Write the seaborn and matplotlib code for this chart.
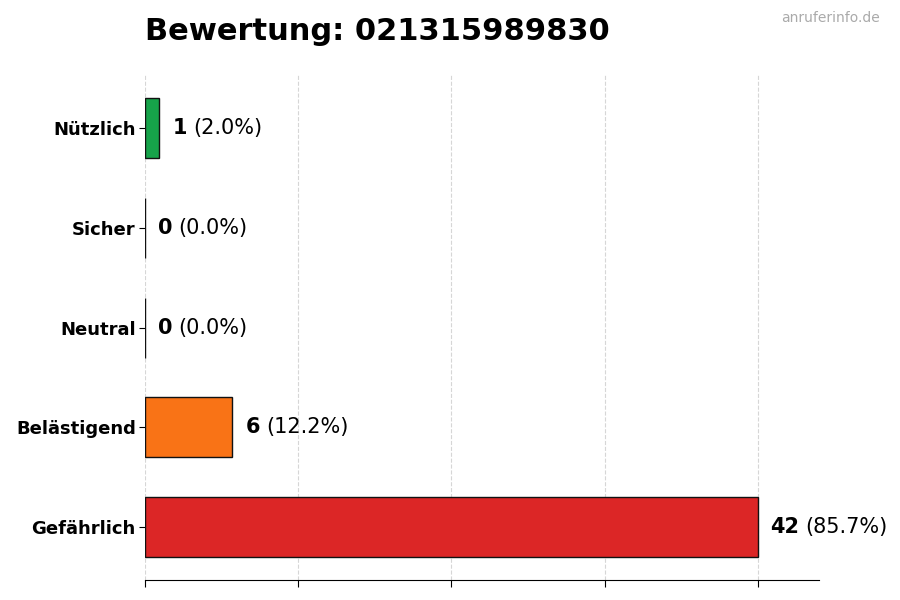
import matplotlib
matplotlib.use("Agg")
import matplotlib.pyplot as plt
import numpy as np
import pandas as pd
import seaborn as sns

# Chart data
categories = ["Nützlich", "Sicher", "Neutral", "Belästigend", "Gefährlich"]
counts = [1, 0, 0, 6, 42]
colors = ["#16a34a", "#2563eb", "#9ca3af", "#f97316", "#dc2626"]
number = "021315989830"

total = sum(counts)
df = pd.DataFrame({"Kategorie": categories, "Anzahl": counts})

sns.set_style("white", {"xtick.bottom": True, "ytick.left": True,
                        "text.color": "black", "axes.labelcolor": "black",
                        "xtick.color": "black", "ytick.color": "black"})
plt.rcParams["font.family"] = ["DejaVu Sans"]

fig, ax = plt.subplots(figsize=(9, 6), dpi=100)
fig.subplots_adjust(left=0.161, right=0.91, top=0.875, bottom=0.033)

sns.barplot(data=df, x="Anzahl", y="Kategorie", hue="Kategorie",
            palette=colors, legend=False, width=0.6, orient="h",
            edgecolor="#111111", linewidth=1, saturation=1, ax=ax)

xmax = max(counts) * 1.1
ax.set_xlim(0, xmax)
ax.set_ylim(len(categories) - 0.47, -0.53)
ax.set_xticks(np.linspace(0, max(counts), 5))
ax.set_xticklabels([])
ax.grid(axis="x", linestyle="--", color="#cccccc", alpha=0.8, linewidth=0.8)
ax.set_axisbelow(True)
ax.tick_params(axis="x", bottom=True, length=5, color="black")
ax.tick_params(axis="y", left=True, length=4, color="black", pad=2.5,
               labelcolor="black")
for lbl in ax.get_yticklabels():
    lbl.set_fontweight("bold")
    lbl.set_fontsize(13)
ax.set_xlabel("")
ax.set_ylabel("")
sns.despine(ax=ax, left=True)
ax.spines["bottom"].set_color("black")

# value labels: bold count + percentage
fig.canvas.draw()
renderer = fig.canvas.get_renderer()
offset = xmax * 0.019
for i, c in enumerate(counts):
    pct = c / total * 100
    t = ax.text(c + offset, i, str(c), va="center", ha="left",
                fontsize=15, fontweight="bold", color="black")
    bb = t.get_window_extent(renderer=renderer)
    x_end = ax.transData.inverted().transform((bb.x1, 0))[0]
    ax.text(x_end + xmax * 0.009, i, f"({pct:.1f}%)", va="center", ha="left",
            fontsize=15, color="black")

fig.text(0.161, 0.948, f"Bewertung: {number}", fontsize=22, fontweight="bold",
         ha="left", va="center", color="black")
fig.text(0.978, 0.97, "anruferinfo.de", fontsize=10, color="#aaaaaa",
         ha="right", va="center")

fig.savefig("out.png", dpi=100)
